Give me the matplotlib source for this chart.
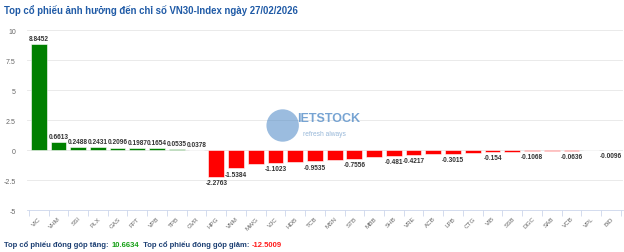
import matplotlib
matplotlib.use("Agg")
import matplotlib.pyplot as plt
from matplotlib.patches import Ellipse
import numpy as np

plt.rcParams['font.family'] = ['Liberation Sans', 'DejaVu Sans']

tickers = ["VIC", "VHM", "SSI", "PLX", "GAS", "FPT", "VPB", "TPB", "GVR",
           "HPG", "VNM", "MWG", "VJC", "HDB", "TCB", "MSN", "STB", "MBB",
           "SHB", "VRE", "ACB", "LPB", "CTG", "VIB", "SSB", "DGC", "SAB",
           "VCB", "VPL", "BID"]
values = [8.8452, 0.6613, 0.2488, 0.2431, 0.2096, 0.1987, 0.1654, 0.0535, 0.0378,
          -2.2763, -1.5384, -1.1566, -1.1023, -0.98, -0.9535, -0.82, -0.7556, -0.55,
          -0.481, -0.4217, -0.36, -0.3015, -0.24, -0.154, -0.13, -0.1068, -0.08,
          -0.0636, -0.02, -0.0096]
# labels the chart hides because they overlap
hidden = ["MWG", "HDB", "MSN", "MBB", "ACB", "CTG", "SSB", "SAB", "VPL"]
total_up = 10.6634
total_down = -12.5009

yticks = [-5, -2.5, 0, 2.5, 5, 7.5, 10]
ytick_labels = ["-5", "-2.5", "0", "2.5", "5", "7.5", "10"]

fig = plt.figure(figsize=(6.24, 2.53), dpi=100)
ax = fig.add_axes([0.043, 0.166, 0.955, 0.711])

x = np.arange(len(tickers))
colors = ["#008000" if v >= 0 else "#ff0000" for v in values]
ax.bar(x, values, width=0.8, color=colors, edgecolor="white", linewidth=0.4, zorder=3)

for xi, v, t in zip(x, values, tickers):
    if t in hidden:
        continue
    if v >= 0:
        ax.annotate(f"{v:g}", (xi, v), xytext=(0, 1.5), textcoords="offset points",
                    ha="center", va="bottom", fontsize=4.7, fontweight="bold", color="#333333")
    else:
        ax.annotate(f"{v:g}", (xi, v), xytext=(0, -1.5), textcoords="offset points",
                    ha="center", va="top", fontsize=4.7, fontweight="bold", color="#333333")

ax.set_ylim(-5, 10)
ax.set_xlim(-0.6, len(tickers) - 0.4)
for s in ["top", "right", "left"]:
    ax.spines[s].set_visible(False)
ax.spines["bottom"].set_color("#ccd6eb")
ax.spines["bottom"].set_linewidth(0.6)

ax.set_yticks(yticks)
ax.set_yticklabels(ytick_labels, fontsize=5, color="#666666")
ax.set_xticks(x)
ax.set_xticklabels(tickers, rotation=45, ha="right", rotation_mode="anchor",
                   fontsize=4.5, color="#666666")
ax.tick_params(axis="y", length=0, pad=8)
ax.tick_params(axis="x", length=0, pad=4)
ax.set_xticks(np.arange(len(tickers) + 1) - 0.5, minor=True)
ax.tick_params(axis="x", which="minor", length=4, color="#ccd6eb", width=0.6)
ax.grid(axis="y", color="#e6e6e6", linewidth=0.6, zorder=0)

# watermark
fig.patches.append(Ellipse((0.453, 0.50), 0.052, 0.128, transform=fig.transFigure,
                           facecolor="#4a86c5", alpha=0.55, zorder=1,
                           edgecolor="none"))
fig.text(0.476, 0.505, "IETSTOCK", fontsize=9, fontweight="bold",
         color="#4a86c5", alpha=0.75, va="bottom")
fig.text(0.485, 0.455, "refresh always", fontsize=4.8, color="#7fa6cf",
         alpha=0.8, va="bottom")

fig.text(0.007, 0.96, "Top cổ phiếu ảnh hưởng đến chỉ số VN30-Index ngày 27/02/2026",
         fontsize=6.9, fontweight="bold", color="#1f5aa6", va="center")

t1 = fig.text(0.007, 0.025, "Top cổ phiếu đóng góp tăng: ", fontsize=5.5,
              fontweight="bold", color="#1c3f73", va="baseline")
t2 = ax.annotate(f"{total_up:.4f}", xy=(1, 0), xycoords=t1, fontsize=5.5,
                 fontweight="bold", color="#16a016", va="bottom")
t3 = ax.annotate("  Top cổ phiếu đóng góp giảm: ", xy=(1, 0), xycoords=t2,
                 fontsize=5.5, fontweight="bold", color="#1c3f73", va="bottom")
ax.annotate(f"{total_down:.4f}", xy=(1, 0), xycoords=t3, fontsize=5.5,
            fontweight="bold", color="#ff1a1a", va="bottom")

fig.savefig("out.png", dpi=100)
